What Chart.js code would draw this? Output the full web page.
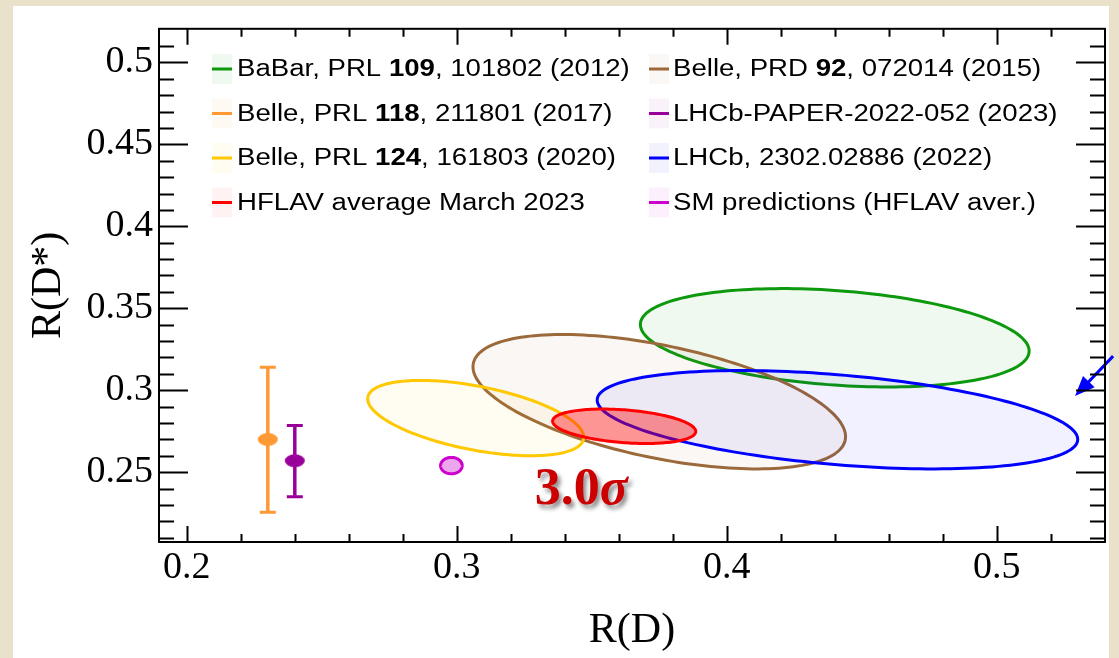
<!DOCTYPE html>
<html>
<head>
<meta charset="utf-8">
<script src="https://cdn.jsdelivr.net/npm/chart.js@4.4.0/dist/chart.umd.min.js"></script>
<style>
  html, body { margin: 0; padding: 0; }
  body { width: 1119px; height: 658px; background: #e9e1c9; position: relative; overflow: hidden; }
  #panel { position: absolute; left: 13px; top: 6px; width: 1096px; height: 652px; background: #fff; }
  #rdChart { position: absolute; left: 0; top: 0; }
</style>
</head>
<body>
<div id="panel"></div>
<canvas id="rdChart" width="1119" height="658"></canvas>
<script>
// ellipse measurements: R(D), R(D*), errors and correlation
const ellipseNames = ['BaBar 2012', 'Belle 2015', 'Belle 2020', 'LHCb 2022', 'HFLAV 2023', 'SM']
const ellipseRD = [0.440, 0.375, 0.307, 0.441, 0.362, 0.298]
const ellipseRDs = [0.332, 0.293, 0.283, 0.282, 0.278, 0.254]
const ellipseErrRD = [0.072, 0.069, 0.040, 0.089, 0.0265, 0.004]
const ellipseErrRDs = [0.030, 0.041, 0.023, 0.030, 0.0105, 0.005]
const ellipseCorr = [-0.27, -0.52, -0.51, -0.40, -0.30, 0.0]

// R(D*) only measurements, drawn at a fixed R(D) position
const pointNames = ['Belle 2017', 'LHCb 2023']
const pointRD = [0.230, 0.240]
const pointRDs = [0.270, 0.257]
const pointErrUp = [0.044, 0.0215]
const pointErrDown = [0.0445, 0.022]

// axis ticks
const xMajorTicks = [0.2, 0.3, 0.4, 0.5]
const yMajorTicks = [0.25, 0.3, 0.35, 0.4, 0.45, 0.5]
const xMinorStep = 0.02
const yMinorStep = 0.01

// legend, two columns, bold part in the middle
const legendLeft = [
    ['BaBar, PRL ', '109', ', 101802 (2012)'],
    ['Belle, PRL ', '118', ', 211801 (2017)'],
    ['Belle, PRL ', '124', ', 161803 (2020)'],
    ['HFLAV average March 2023', '', '']
]
const legendRight = [
    ['Belle, PRD ', '92', ', 072014 (2015)'],
    ['LHCb-PAPER-2022-052 (2023)', '', ''],
    ['LHCb, 2302.02886 (2022)', '', ''],
    ['SM predictions (HFLAV aver.)', '', '']
]

const ellipseLine = ['#0d990d', '#9c6a3a', '#ffc800', '#0000ff', '#ff0000', '#cc00cc']
const ellipseFill = ['rgba(0,150,0,0.06)', 'rgba(150,100,50,0.05)', 'rgba(255,200,0,0.05)',
    'rgba(0,0,255,0.055)', 'rgba(255,0,0,0.4)', 'rgba(204,0,204,0.35)']
const pointColors = ['#ff9933', '#990099']
const legendLeftColors = ['#0d990d', '#ff9933', '#ffc800', '#ff0000']
const legendRightColors = ['#9c6a3a', '#990099', '#0000ff', '#cc00cc']
const legendLeftFill = ['rgba(0,150,0,0.06)', 'rgba(255,153,51,0.06)', 'rgba(255,200,0,0.05)', 'rgba(255,0,0,0.05)']
const legendRightFill = ['rgba(150,100,50,0.05)', 'rgba(153,0,153,0.05)', 'rgba(0,0,255,0.05)', 'rgba(204,0,204,0.06)']

function makeMarker(color){
    const c = document.createElement('canvas')
    c.width = 22
    c.height = 16
    const g = c.getContext('2d')
    g.fillStyle = color
    g.beginPath()
    g.ellipse(11, 8, 10, 6.5, 0, 0, Math.PI * 2)
    g.fill()
    return c
}

//ellipses and error bars under the markers
const ellipsePlugin = {
    id: 'ellipses',
    beforeDatasetsDraw(chart){
        const ctx = chart.ctx
        const xs = chart.scales.x
        const ys = chart.scales.y
        ctx.save()
        ellipseNames.forEach((name, i) => {
            const s = Math.sqrt(1 - ellipseCorr[i] * ellipseCorr[i])
            ctx.beginPath()
            for (let k = 0; k <= 180; k++) {
                const t = k / 180 * Math.PI * 2
                const vx = ellipseRD[i] + ellipseErrRD[i] * Math.cos(t)
                const vy = ellipseRDs[i] + ellipseErrRDs[i] * (ellipseCorr[i] * Math.cos(t) + s * Math.sin(t))
                const px = xs.getPixelForValue(vx)
                const py = ys.getPixelForValue(vy)
                if (k === 0) ctx.moveTo(px, py)
                else ctx.lineTo(px, py)
            }
            ctx.closePath()
            ctx.fillStyle = ellipseFill[i]
            ctx.fill()
            ctx.lineWidth = 3
            ctx.strokeStyle = ellipseLine[i]
            ctx.stroke()
        })
        pointNames.forEach((name, i) => {
            const px = xs.getPixelForValue(pointRD[i])
            const top = ys.getPixelForValue(pointRDs[i] + pointErrUp[i])
            const bottom = ys.getPixelForValue(pointRDs[i] - pointErrDown[i])
            ctx.strokeStyle = pointColors[i]
            ctx.lineWidth = 3.5
            ctx.beginPath()
            ctx.moveTo(px, top)
            ctx.lineTo(px, bottom)
            ctx.stroke()
            ctx.lineWidth = 3
            ctx.beginPath()
            ctx.moveTo(px - 8, top)
            ctx.lineTo(px + 8, top)
            ctx.moveTo(px - 8, bottom)
            ctx.lineTo(px + 8, bottom)
            ctx.stroke()
        })
        ctx.restore()
    }
}

// frame with inward ticks on all four sides
const framePlugin = {
    id: 'frame',
    afterDraw(chart){
        const ctx = chart.ctx
        const a = chart.chartArea
        const xs = chart.scales.x
        const ys = chart.scales.y
        ctx.save()
        ctx.strokeStyle = '#000'
        ctx.lineWidth = 2
        ctx.strokeRect(a.left, a.top, a.right - a.left, a.bottom - a.top)
        ctx.beginPath()
        for (let k = Math.ceil(xs.min / xMinorStep); k * xMinorStep < xs.max - 0.002; k++) {
            const v = k * xMinorStep
            const major = xMajorTicks.some(m => Math.abs(m - v) < 1e-6)
            const len = major ? 16 : 8
            const px = Math.round(xs.getPixelForValue(v)) + 0.5
            ctx.moveTo(px, a.bottom); ctx.lineTo(px, a.bottom - len)
            ctx.moveTo(px, a.top); ctx.lineTo(px, a.top + len)
        }
        for (let k = Math.ceil(ys.min / yMinorStep); k * yMinorStep < ys.max - 0.002; k++) {
            const v = k * yMinorStep
            const major = yMajorTicks.some(m => Math.abs(m - v) < 1e-6)
            const len = major ? 29 : 15
            const py = Math.round(ys.getPixelForValue(v)) + 0.5
            ctx.moveTo(a.left, py); ctx.lineTo(a.left + len, py)
            ctx.moveTo(a.right, py); ctx.lineTo(a.right - len, py)
        }
        ctx.stroke()
        ctx.restore()
    }
}

function drawLegendColumn(ctx, rows, colors, fills, lineX, textX, rowY){
    rows.forEach((parts, i) => {
        const y = rowY[i]
        ctx.fillStyle = fills[i]
        ctx.fillRect(lineX, y - 15, 20, 30)
        ctx.fillStyle = colors[i]
        ctx.fillRect(lineX, y - 1.5, 20, 3)
        ctx.save()
        ctx.translate(textX, y + 1)
        ctx.scale(1.2, 1)
        ctx.fillStyle = '#000'
        ctx.textBaseline = 'middle'
        let x = 0
        parts.forEach((p, j) => {
            if (!p) return
            ctx.font = (j === 1 ? 'bold ' : '') + '23px "Liberation Sans", Arial, sans-serif'
            ctx.fillText(p, x, 0)
            x += ctx.measureText(p).width
        })
        ctx.restore()
    })
}

const legendPlugin = {
    id: 'sideLegend',
    afterDraw(chart){
        const ctx = chart.ctx
        const rowY = [69, 113.5, 158, 202.5]
        ctx.save()
        drawLegendColumn(ctx, legendLeft, legendLeftColors, legendLeftFill, 212, 237, rowY)
        drawLegendColumn(ctx, legendRight, legendRightColors, legendRightFill, 649, 673, rowY)
        ctx.restore()
    }
}

// 3.0 sigma label and the arrow to the LHCb ellipse
const notePlugin = {
    id: 'notes',
    afterDatasetsDraw(chart){
        const ctx = chart.ctx
        const xs = chart.scales.x
        const ys = chart.scales.y
        ctx.save()
        ctx.shadowColor = 'rgba(0,0,0,0.45)'
        ctx.shadowOffsetX = 3
        ctx.shadowOffsetY = 4
        ctx.shadowBlur = 4
        ctx.fillStyle = '#cc0000'
        ctx.textBaseline = 'alphabetic'
        let x = xs.getPixelForValue(0.3289)
        const y = ys.getPixelForValue(0.2306)
        ctx.font = 'bold 52px "Liberation Serif", "Times New Roman", serif'
        ctx.fillText('3.0', x, y)
        x += ctx.measureText('3.0').width
        ctx.font = 'italic bold 52px "Liberation Serif", "Times New Roman", serif'
        ctx.fillText('σ', x, y)
        ctx.restore()

        const tx = xs.getPixelForValue(0.5431)
        const ty = ys.getPixelForValue(0.3208)
        const hx = xs.getPixelForValue(0.529)
        const hy = ys.getPixelForValue(0.2964)
        const ang = Math.atan2(hy - ty, hx - tx)
        ctx.save()
        ctx.strokeStyle = '#0000ff'
        ctx.fillStyle = '#0000ff'
        ctx.lineWidth = 3
        ctx.beginPath()
        ctx.moveTo(tx, ty)
        ctx.lineTo(hx - 14 * Math.cos(ang), hy - 14 * Math.sin(ang))
        ctx.stroke()
        ctx.beginPath()
        ctx.moveTo(hx, hy)
        ctx.lineTo(hx - 20 * Math.cos(ang) + 8 * Math.sin(ang), hy - 20 * Math.sin(ang) - 8 * Math.cos(ang))
        ctx.lineTo(hx - 20 * Math.cos(ang) - 8 * Math.sin(ang), hy - 20 * Math.sin(ang) + 8 * Math.cos(ang))
        ctx.closePath()
        ctx.fill()
        ctx.restore()
    }
}

const serif = '"Liberation Serif", "Times New Roman", serif'

let rdChart = new Chart(document.getElementById('rdChart'), {
    type: 'scatter',
    data: {
        datasets: pointNames.map((name, i) => ({
            label: name,
            data: [{x: pointRD[i], y: pointRDs[i]}],
            pointStyle: makeMarker(pointColors[i]),
            pointRadius: 10,
            showLine: false
        }))
    },
    options: {
        responsive: false,
        animation: false,
        devicePixelRatio: 1,
        layout: {padding: {top: 18, right: 14, left: 0, bottom: 0}},
        plugins: {
            legend: {display: false},
            tooltip: {enabled: false}
        },
        scales: {
            x: {
                type: 'linear',
                min: 0.1897,
                max: 0.5401,
                grid: {display: false, drawTicks: false},
                border: {display: false},
                afterBuildTicks: scale => { scale.ticks = xMajorTicks.map(v => ({value: v})) },
                afterFit: scale => { scale.height = 116 },
                ticks: {
                    color: '#000',
                    padding: 3,
                    font: {family: serif, size: 38},
                    callback: v => String(+v.toFixed(3))
                },
                title: {
                    display: true,
                    text: 'R(D)',
                    color: '#000',
                    font: {family: serif, size: 42},
                    padding: {top: 0, bottom: 2}
                }
            },
            y: {
                type: 'linear',
                min: 0.2074,
                max: 0.5205,
                grid: {display: false, drawTicks: false},
                border: {display: false},
                afterBuildTicks: scale => { scale.ticks = yMajorTicks.map(v => ({value: v})) },
                afterFit: scale => { scale.width = 159 },
                ticks: {
                    color: '#000',
                    padding: 6,
                    font: {family: serif, size: 38},
                    callback: v => String(+v.toFixed(3))
                },
                title: {
                    display: true,
                    text: 'R(D*)',
                    color: '#000',
                    font: {family: serif, size: 42},
                    padding: {top: 24, bottom: 0}
                }
            }
        }
    },
    plugins: [ellipsePlugin, framePlugin, legendPlugin, notePlugin]
})
</script>
</body>
</html>
